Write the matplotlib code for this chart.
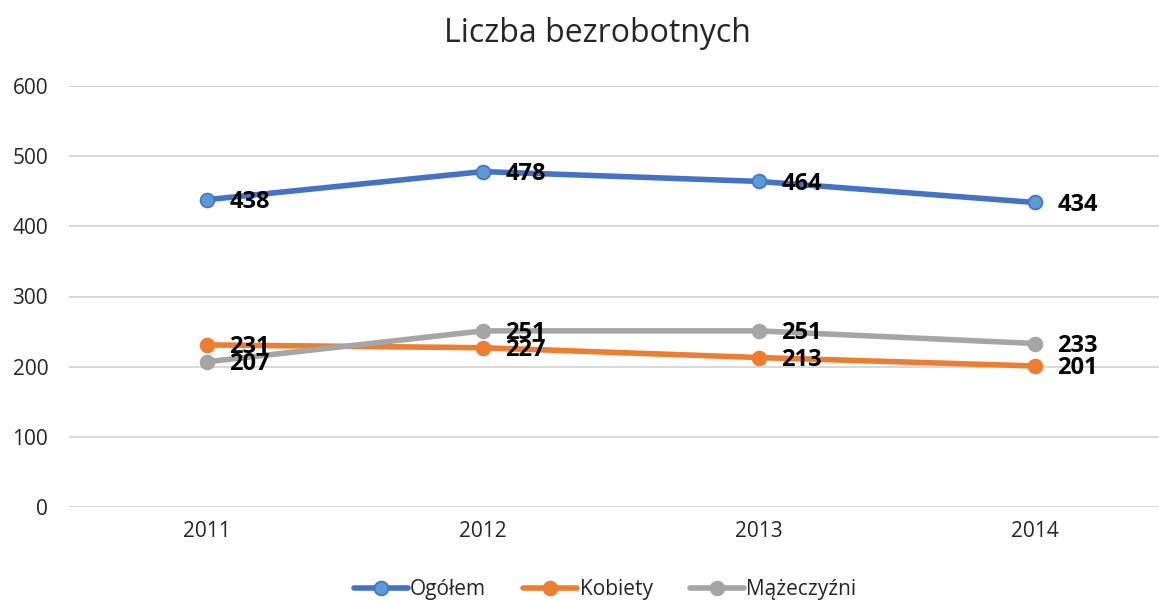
import matplotlib
matplotlib.use("Agg")
import matplotlib.pyplot as plt

years = ["2011", "2012", "2013", "2014"]
ogolem = [438, 478, 464, 434]
kobiety = [231, 227, 213, 201]
mezczyzni = [207, 251, 251, 233]
series_names = ["Ogółem", "Kobiety", "Mążeczyźni"]
title = "Liczba bezrobotnych"
yticks = [0, 100, 200, 300, 400, 500, 600]

plt.rcParams['font.family'] = ['Open Sans', 'DejaVu Sans']

W, H = 1159, 601
fig = plt.figure(figsize=(W / 100, H / 100), dpi=100)
left, right = 69, 1173
top, bottom = 86, 507
ax = fig.add_axes([left / W, 1 - bottom / H, (right - left) / W, (bottom - top) / H])

styles = [
    dict(color="#4472C4", mfc="#5B9BD5", mec="#4472C4"),
    dict(color="#ED7D31", mfc="#ED7D31", mec="#ED7D31"),
    dict(color="#A5A5A5", mfc="#A5A5A5", mec="#A5A5A5"),
]
x = list(range(len(years)))
for vals, name, st in zip([ogolem, kobiety, mezczyzni], series_names, styles):
    ax.plot(x, vals, color=st["color"], lw=4, marker="o", ms=10,
            mfc=st["mfc"], mec=st["mec"], mew=1.2, label=name, zorder=3,
            solid_capstyle="round")
    for xi, v in zip(x, vals):
        ax.annotate(str(v), (xi, v), xytext=(16, -1.5), textcoords="offset points",
                    ha="left", va="center", fontsize=17, fontweight="bold",
                    color="black", zorder=4)

ax.set_xlim(-0.5, len(years) - 0.5)
ax.set_ylim(0, 600)
ax.set_yticks(yticks)
ax.set_yticklabels([str(t) for t in yticks], fontsize=15, color="#262626")
ax.set_xticks(x)
ax.set_xticklabels(years, fontsize=15, color="#262626")
ax.tick_params(axis="both", length=0)
ax.tick_params(axis="y", pad=15)
ax.tick_params(axis="x", pad=10)
ax.grid(axis="y", color="#D9D9D9", lw=1.5)
ax.set_axisbelow(True)
for s in ax.spines.values():
    s.set_visible(False)

fig.text(597 / W, 1 - 33 / H, title, ha="center", va="center", fontsize=23, color="#262626")

fig.legend(loc="center", bbox_to_anchor=(605 / W, 1 - 590 / H), ncol=3, frameon=False,
           fontsize=15, handlelength=2.6, handletextpad=0.1, columnspacing=1.8,
           labelcolor="#262626")

fig.savefig("out.png", dpi=100)
